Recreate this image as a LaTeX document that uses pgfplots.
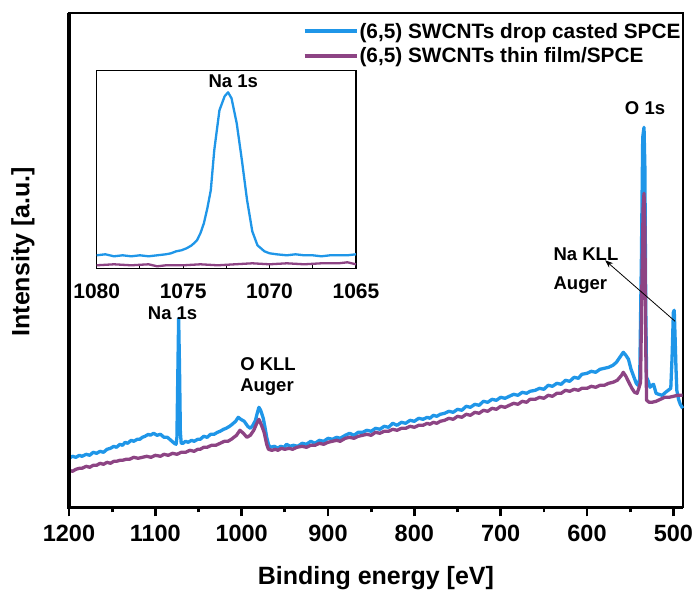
\documentclass[border=0pt]{standalone}
\usepackage{fontspec}
\setmainfont{Liberation Sans}
\usepackage{pgfplots}
\pgfplotsset{compat=1.18}
\usetikzlibrary{arrows.meta}
\definecolor{cblue}{RGB}{31,150,232}
\definecolor{cpurp}{RGB}{141,68,132}
\begin{document}
\begin{tikzpicture}
\path[use as bounding box] (-69pt,-84.7pt) rectangle (627pt,507.3pt);
\begin{axis}[
 name=main,
 at={(0pt,0pt)}, anchor=south west,
 scale only axis, width=613.7pt, height=494.3pt,
 x dir=reverse, xmin=489.2, xmax=1200, ymin=0, ymax=494.3,
 clip=false,
 ytick=\empty, xtick={500,600,...,1200}, minor x tick num=1,
 xtick pos=bottom, tick align=outside,
 major tick length=9pt, minor tick length=5pt,
 every tick/.style={black, line width=2.7pt},
 axis line style={line width=1.8pt},
 /pgf/number format/assume math mode=true,
 /pgf/number format/1000 sep={},
 xticklabel style={font=\fontsize{23.5}{28}\selectfont\bfseries, yshift=-5pt},
 xlabel={Binding energy [eV]}, ylabel={Intensity [a.u.]},
 xlabel style={font=\fontsize{25}{30}\selectfont\bfseries, at={(axis description cs:0.5,-0.143)}, anchor=center},
 ylabel style={font=\fontsize{25}{30}\selectfont\bfseries, at={(axis description cs:-0.075,0.517)}, anchor=center, rotate=0},
 legend style={at={(rel axis cs:1,1)}, anchor=north east, yshift=-9pt, xshift=-1pt, draw=none, fill=none,
   font=\fontsize{20.8}{24}\selectfont\bfseries, row sep=6pt, inner sep=0pt, nodes={inner sep=1pt}},
 legend cell align=left,
 legend image code/.code={\draw[#1, line width=4pt] (0pt,0pt) -- (52pt,0pt);},
]
\addplot[cblue, line width=3.3pt, line join=round] coordinates {
(1200,49) (1196,51) (1192,50) (1188,52) (1185,51) (1180,53) (1176,52) (1172,55)
(1168,54) (1164,56) (1160,55) (1156,58) (1152,59) (1148,61) (1145,60) (1141,63)
(1138,62) (1135,65) (1132,64) (1128,67) (1125,66) (1121,68) (1118,68) (1115,70)
(1112,71) (1108,73) (1106,72) (1102,74) (1098,72) (1094,73) (1090,70) (1086,70)
(1082,67) (1078,64) (1076,63) (1075,70) (1074,130)
(1073,189) (1072,140) (1071,75) (1070,64) (1068,64) (1065,66) (1062,65) (1058,67)
(1055,66) (1051,68) (1048,68) (1044,71) (1040,70) (1036,73) (1032,73) (1028,75)
(1025,76) (1021,78) (1018,79) (1014,81) (1011,83) (1007,86) (1004,90) (1001,88)
(997,86) (993,81) (990,79) (987,82) (984,87) (982,94) (980,100) (978,97) (975,89)
(973,80) (971,70) (969,63) (967,60)
(962,61) (958,59) (955,61) (951,60) (948,63) (944,61) (940,62) (935,61) (930,64)
(925,63) (920,66) (915,64) (910,67) (905,66) (900,69) (895,68) (890,70) (886,69)
(880,72) (875,74) (870,72) (865,75) (860,75) (855,77) (850,76) (845,79) (840,78)
(835,81) (830,80) (825,84) (820,82) (815,85) (810,84) (805,87) (800,86) (795,89)
(790,88) (785,90) (782,89) (778,92) (774,91) (770,93) (765,94) (760,96) (755,95)
(750,98) (745,97) (740,101) (735,100) (730,103) (725,102) (720,106) (715,105)
(710,108) (705,107) (700,110) (695,109) (690,111) (685,113) (680,112) (675,115)
(670,114) (666,116) (660,117) (655,119) (650,118) (645,122) (640,121) (635,124)
(630,123) (625,127) (620,126) (615,130) (610,129) (606,133) (600,134) (595,136)
(590,135) (585,138) (580,139) (575,140) (570,142)
(566,145) (562,150) (558,155) (555,152) (552,148) (549,138) (546,131)
(543,124) (541,122) (539,128) (537,250) (535.5,370) (534,380) (533,340) (532,200)
(531,130) (529,126) (527,120) (525,122) (523,123) (520,114) (517,113) (513,112)
(509,115) (506,117) (503,119) (501.5,150) (500,195) (499,197) (498,170) (497,140)
(496,117) (494,108) (492,103) (489.2,99)
};
\addlegendentry{(6,5) SWCNTs drop casted SPCE}
\addplot[cpurp, line width=3.3pt, line join=round] coordinates {
(1200,37) (1196,36) (1192,38) (1188,39) (1185,39) (1180,41) (1176,40) (1172,42)
(1168,42) (1164,44) (1160,43) (1156,45) (1152,44) (1148,46) (1145,46) (1141,47)
(1138,47) (1134,48) (1130,48) (1125,50) (1120,49) (1115,50) (1110,51) (1105,50)
(1100,52) (1094,51) (1090,53) (1085,52) (1080,54) (1075,53) (1070,55) (1065,55)
(1060,57) (1055,56) (1051,58) (1048,58) (1044,60) (1040,60) (1035,62) (1030,62)
(1025,64) (1020,66) (1016,66) (1012,68) (1006,72)
(1002,77) (998,74) (994,70) (990,72) (986,77) (983,83) (980,88) (977,82) (974,75)
(971,63) (969,58)
(965,57) (961,58) (958,57) (954,59) (950,58) (945,59) (941,58) (936,60) (930,61)
(925,60) (920,62) (915,62) (910,64) (905,63) (900,65) (895,66) (890,67) (886,66)
(880,69) (875,70) (870,69) (865,71) (860,72) (855,73) (850,72) (845,75) (840,74)
(835,76) (830,76) (825,78) (820,77) (815,79) (810,79) (805,81) (800,80) (795,82)
(790,82) (785,84) (782,83) (778,85) (774,84) (770,86) (765,87) (760,89) (755,88)
(750,91) (745,90) (740,93) (735,92) (730,95) (725,94) (720,97) (715,96) (710,99)
(705,98) (700,101) (695,100) (690,102) (685,104) (680,103) (675,106) (670,105)
(666,108) (660,108) (655,110) (650,109) (645,112) (640,111) (635,114) (630,114)
(625,117) (620,116) (615,118) (610,117) (606,119) (600,119) (595,121) (590,120)
(585,122) (580,122) (575,124) (570,125) (565,127)
(560,132) (558,135) (555,131) (551,124) (548,119) (545,115) (542,114) (540,119)
(538,125) (536.5,220) (535,300) (534,314) (533,280) (532,160) (531,107) (528,105)
(525,105) (520,106) (515,108) (510,110) (505,110) (500,111) (495,112) (489.2,112)
};
\addlegendentry{(6,5) SWCNTs thin film/SPCE}
\node[font=\fontsize{18.5}{22}\selectfont\bfseries] at (axis cs:1080,194) {Na 1s};
\node[font=\fontsize{18.5}{22}\selectfont\bfseries, anchor=west] at (axis cs:1005.7,143) {O KLL};
\node[font=\fontsize{18.5}{22}\selectfont\bfseries, anchor=west] at (axis cs:1005.7,120) {Auger};
\node[font=\fontsize{18.5}{22}\selectfont\bfseries] at (axis cs:532.8,399) {O 1s};
\node[font=\fontsize{18.5}{22}\selectfont\bfseries, anchor=west] at (axis cs:642.8,253) {Na KLL};
\node[font=\fontsize{18.5}{22}\selectfont\bfseries, anchor=west] at (axis cs:642.8,222) {Auger};
\draw[-{Stealth[length=8pt,width=6pt]}, line width=0.8pt] (axis cs:498,186) -- (axis cs:579,247);
\end{axis}
\draw[line width=3.5pt] (main.north west) -- (main.south west) -- (main.south east);
\begin{axis}[
 at={(27.7pt,239pt)}, anchor=south west,
 scale only axis, width=259.3pt, height=197.6pt,
 x dir=reverse, xmin=1065, xmax=1080, ymin=0, ymax=197.6,
 clip=false,
 ytick=\empty, xtick={1065,1070,1075,1080}, minor x tick num=1,
 xtick pos=bottom, tick align=inside,
 major tick length=3pt, minor tick length=3pt,
 every tick/.style={black, line width=1pt},
 axis line style={line width=1.3pt},
 axis background/.style={fill=white},
 /pgf/number format/assume math mode=true,
 /pgf/number format/1000 sep={},
 xticklabel style={font=\fontsize{21}{25}\selectfont\bfseries, yshift=-12pt},
]
\addplot[cblue, line width=2.3pt, line join=round] coordinates {
(1080,13) (1079.5,14) (1079,12) (1078.5,13) (1078,12) (1077.5,13) (1077,12)
(1076.5,13) (1076,14) (1075.7,15) (1075.4,17) (1075.1,18) (1074.8,20) (1074.5,23)
(1074.2,28) (1074.0,35) (1073.8,45) (1073.6,60) (1073.4,78) (1073.2,118)
(1072.9,158) (1072.6,172) (1072.4,176) (1072.2,170) (1071.9,145) (1071.6,108)
(1071.3,68) (1071.0,37) (1070.7,23) (1070.3,17) (1070.0,15) (1069.6,14) (1069.0,13)
(1068.5,14) (1068.0,13) (1067.5,13) (1067.0,12) (1066.5,13) (1066.0,13) (1065.5,13) (1065,14)
};
\addplot[cpurp, line width=2.3pt, line join=round] coordinates {
(1080,3) (1079,4) (1078,3) (1077,4) (1076.5,2) (1076,3) (1075,3) (1074,4) (1073,3)
(1072,4) (1071,5) (1070,4) (1069,5) (1068,4) (1067,5) (1066,5) (1065.5,6) (1065,4)
};
\node[font=\fontsize{18.5}{22}\selectfont\bfseries] at (axis cs:1072.1,186.6) {Na 1s};
\end{axis}
\end{tikzpicture}
\end{document}
